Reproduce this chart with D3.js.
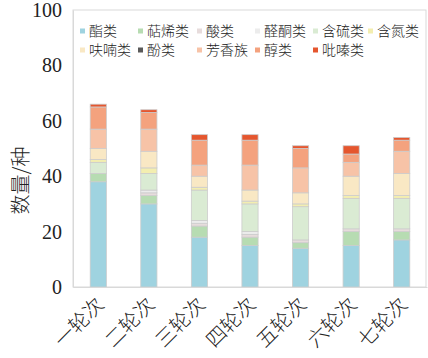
<!DOCTYPE html>
<html>
<head>
<meta charset="utf-8">
<script src="https://cdn.jsdelivr.net/npm/d3@7"></script>
<style>
  body { margin: 0; background: #fff; }
  svg text { fill: #222; }
</style>
</head>
<body>
<div id="chart"></div>
<script>
var svgWidth = 428;
var svgHeight = 358;

// categories and series (bottom to top, same order as legend)
var rounds = ["一轮次", "二轮次", "三轮次", "四轮次", "五轮次", "六轮次", "七轮次"];
var seriesNames = ["酯类", "萜烯类", "酸类", "醛酮类", "含硫类", "含氮类", "呋喃类", "酚类", "芳香族", "醇类", "吡嗪类"];
var esters    = [38, 30, 18, 15, 14, 15, 17];
var terpenes  = [3, 3, 4, 3, 2, 5, 3];
var acids     = [0, 1, 1, 1, 1, 1, 1];
var carbonyls = [0, 1, 1, 1, 0, 0, 0];
var sulfur    = [4, 6, 11, 10, 12, 11, 11];
var nitrogen  = [1, 2, 1, 1, 1, 1, 1];
var furans    = [4, 6, 4, 4, 4, 7, 8];
var phenols   = [0, 0, 0, 0, 0, 0, 0];
var aromatics = [7, 8, 4, 9, 9, 5, 8];
var alcohols  = [8, 6, 9, 9, 7, 3, 4];
var pyrazines = [1, 1, 2, 2, 1, 3, 1];
var yTicks = [0, 20, 40, 60, 80, 100];

var seriesValues = [esters, terpenes, acids, carbonyls, sulfur, nitrogen, furans, phenols, aromatics, alcohols, pyrazines];
var colors = ["#9fd3e0", "#b7dcb2", "#e7dcdc", "#ececec", "#daebd3", "#f3eeb0",
              "#f9e8c4", "#5a5a5a", "#f7c3a7", "#f4a27e", "#e5562e"];

var margin = { top: 10, right: 0, bottom: 71, left: 73 };
var width = svgWidth - margin.left - margin.right;
var height = svgHeight - margin.top - margin.bottom;

var svg = d3.select("#chart")
    .append("svg")
    .attr("width", svgWidth)
    .attr("height", svgHeight);

var chartGroup = svg.append("g")
    .attr("transform", `translate(${margin.left}, ${margin.top})`);

// build table for stacking
var table = rounds.map(function(r, i) {
    var row = { round: r };
    seriesNames.forEach(function(s, j) { row[s] = seriesValues[j][i]; });
    return row;
});

var stacked = d3.stack().keys(seriesNames)(table);

var xScale = d3.scaleBand()
    .domain(rounds)
    .range([0, width - 1])
    .paddingInner(0.68)
    .paddingOuter(0.34);

var yScale = d3.scaleLinear()
    .domain([0, 100])
    .range([height, 0]);

// frame
chartGroup.append("rect")
    .attr("x", 0)
    .attr("y", 0)
    .attr("width", width - 2)
    .attr("height", height)
    .attr("fill", "none")
    .attr("stroke", "#d9d9d9")
    .attr("stroke-width", 1);

// bars
var layers = chartGroup.selectAll(".layer")
    .data(stacked)
    .enter()
    .append("g")
    .attr("class", "layer")
    .attr("fill", (d, i) => colors[i]);

layers.selectAll("rect")
    .data(d => d.filter(p => p[1] - p[0] > 0))
    .enter()
    .append("rect")
    .attr("x", d => xScale(d.data.round))
    .attr("y", d => yScale(d[1]))
    .attr("width", xScale.bandwidth())
    .attr("height", d => yScale(d[0]) - yScale(d[1]))
    .attr("stroke", "#cccccc")
    .attr("stroke-width", 0.8);

// y axis
var leftAxis = d3.axisLeft(yScale).tickValues(yTicks).tickSize(0).tickPadding(11);
var yAxis = chartGroup.append("g").call(leftAxis);
yAxis.select(".domain").attr("stroke", "#d9d9d9");
yAxis.selectAll("text")
    .attr("font-family", "'Liberation Serif', serif")
    .attr("font-size", "20px")
    .attr("fill", "#222");

// x axis
var bottomAxis = d3.axisBottom(xScale).tickSize(0).tickPadding(0);
var xAxis = chartGroup.append("g")
    .attr("transform", `translate(0, ${height})`)
    .call(bottomAxis);
xAxis.select(".domain").attr("stroke", "#d9d9d9");
xAxis.selectAll("text")
    .attr("font-family", "'Noto Sans CJK SC', sans-serif")
    .attr("font-size", "20px")
    .attr("font-weight", 300)
    .attr("fill", "#222")
    .attr("text-anchor", "end")
    .attr("dy", "0.35em")
    .attr("transform", "translate(2, 14) rotate(-45)");

// y label
svg.append("text")
    .attr("transform", `translate(21, ${margin.top + height / 2 + 32}) rotate(-90)`)
    .attr("text-anchor", "middle")
    .attr("dy", "0.35em")
    .attr("font-family", "'Noto Sans CJK SC', sans-serif")
    .attr("font-size", "20px")
    .attr("font-weight", 300)
    .text("数量/种");

// legend
var legendX = [80, 138, 197, 255, 313, 368];
var legend = svg.append("g");
seriesNames.forEach(function(name, i) {
    var col = i < 6 ? i : i - 6;
    var row = i < 6 ? 0 : 1;
    var lx = legendX[col];
    var ly = 31 + row * 19;
    legend.append("rect")
        .attr("x", lx)
        .attr("y", ly - 2.5)
        .attr("width", 5)
        .attr("height", 5)
        .attr("fill", colors[i]);
    legend.append("text")
        .attr("x", lx + 9)
        .attr("y", ly)
        .attr("dy", "0.35em")
        .attr("font-family", "'Noto Sans CJK SC', sans-serif")
        .attr("font-size", "14px")
        .attr("font-weight", 300)
        .text(name);
});
</script>
</body>
</html>
